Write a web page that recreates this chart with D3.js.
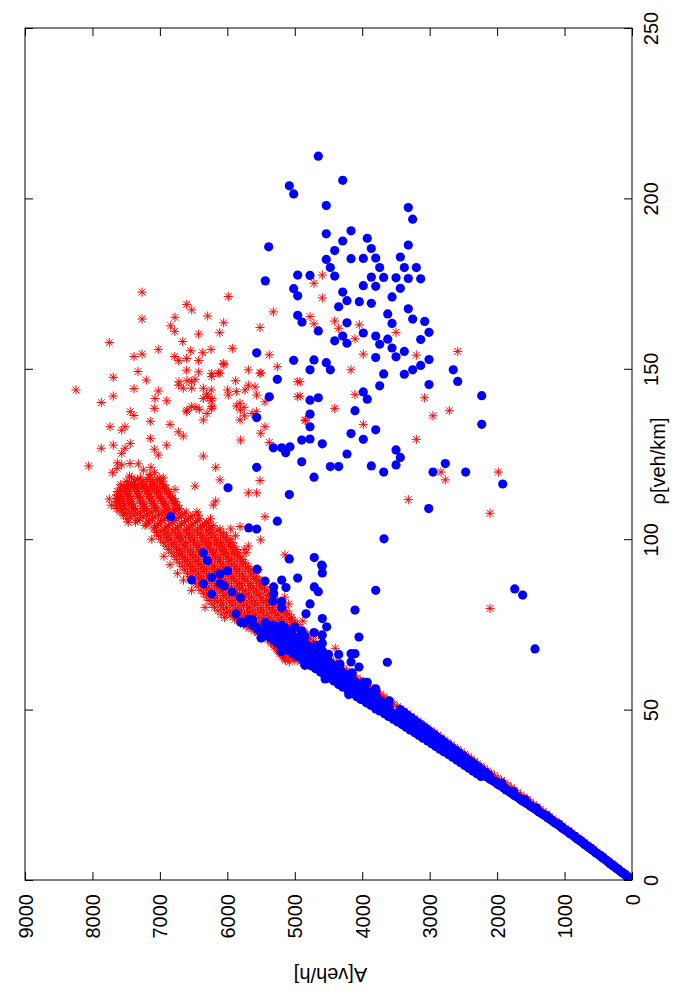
<!DOCTYPE html>
<html><head><meta charset="utf-8">
<script src="https://cdn.jsdelivr.net/npm/d3@7/dist/d3.min.js"></script>
<style>body{margin:0;background:#fff}svg{display:block}</style>
</head><body>
<svg id="chart" width="700" height="1000"></svg>
<script>
// ---------- data (rho [veh/km], A [veh/h]) ----------
const rhoTicks = [0, 50, 100, 150, 200, 250];
const flowTicks = [0, 1000, 2000, 3000, 4000, 5000, 6000, 7000, 8000, 9000];
const rhoLabel = "ρ[veh/km]";
const flowLabel = "A[veh/h]";

// red series: free-flow band
const redBandLow = [[0.5,30],[1.2,75],[1.9,120],[2.6,165],[3.3,210],[4.0,255],[4.7,300],[5.4,345],[6.1,390],[6.8,435],[7.5,480],[8.2,525],[8.9,570],[9.6,615],[10.3,660],[11.0,710],[11.7,755],[12.4,800],[13.1,850],[13.8,895],[14.5,940],[15.2,990],[15.9,1035],[16.6,1080],[17.3,1130],[18.0,1175],[18.7,1225],[19.4,1270],[20.1,1320],[20.8,1365],[21.5,1410],[22.2,1460],[22.9,1505],[23.6,1555],[24.3,1600],[25.0,1650],[25.7,1700],[26.4,1745],[27.1,1790],[27.8,1840],[28.5,1890],[29.2,1935],[29.9,1985],[30.6,2040],[31.3,2090],[32.0,2140],[32.7,2190],[33.4,2240],[34.1,2290],[34.8,2330],[35.5,2380],[36.2,2430],[36.9,2480],[37.6,2530],[38.3,2580],[39.0,2630],[39.7,2680],[40.4,2730],[41.1,2780],[41.8,2830],[42.5,2880],[43.2,2930],[43.9,2980],[44.6,3030],[45.3,3080],[46.0,3130],[46.7,3180],[47.4,3230],[48.1,3280],[48.8,3330],[49.5,3380],[33.0,2350],[38.0,2720],[43.0,3100],[48.0,3450],[50.2,3430],[50.9,3480],[51.6,3530],[52.3,3580],[53.0,3630],[53.7,3680],[54.4,3730],[55.1,3780],[55.8,3830],[56.5,3880],[57.2,3930],[57.9,3980],[58.6,4030],[59.3,4080],[60.0,4130],[60.7,4180],[61.4,4230],[62.1,4280],[62.8,4330],[63.5,4380],[64.2,4430],[52.0,3800],[55.0,4050],[58.0,4300],[61.0,4500],[40.0,2850],[45.0,3200],[36.0,2520]];

// red series: dense congested band, one row of flows per density
const redCoreRho = [64,64.5,65,65.5,66,66.5,67,67.5,68,68.5,69,69.5,70,70.5,71,71.5,72,72.5,73,73.5,74,74.5,75,75.5,76,76.5,77,77.5,78,78.5,79,79.5,80,80.5,81,81.5,82,82.5,83,83.5,84,84.5,85,85.5,86,86.5,87,87.5,88,88.5,89,89.5,90,90.5,91,91.5,92,92.5,93,93.5,94,94.5,95,95.5,96,96.5,97,97.5,98,98.5,99,99.5,100,100.5,101,101.5,102,102.5,103,103.5,104,104.5,105,105.5,106,106.5,107,107.5,108,108.5,109,109.5,110,110.5,111,111.5,112,112.5,113,113.5,114,114.5,115,115.5,116,116.5,117,117.5,118];
const redCoreA = [
[4470,4610,4790,4920,5080],[4540,4700,4860,5010,5140],
[4520,4700,4840,5010,5150],[4610,4770,4930,5090,5180],
[4560,4690,4880,5030,5170],[4650,4810,4970,5130,5220],
[4600,4760,4900,5060,5230],[4690,4850,5010,5170,5260],
[4640,4800,4960,5100,5270],[4730,4890,5050,5210,5300],
[4680,4850,4990,5150,5310],[4770,4930,5090,5250,5350],
[4720,4870,5040,5190,5350],[4800,4970,5130,5300,5400],
[4770,4930,5080,5250,5400],[4850,5010,5180,5340,5480],
[4820,4960,5130,5290,5450,5520],[4900,5060,5220,5390,5550],
[4860,5020,5170,5340,5500,5600],[4950,5110,5270,5430,5600],
[4920,5060,5230,5380,5550,5680],[5000,5160,5320,5480,5650,5720],
[4960,5120,5270,5440,5600,5760],[5040,5200,5370,5530,5700,5800],
[5000,5160,5320,5480,5650,5820],[5080,5250,5410,5580,5750,5890],
[5050,5200,5370,5530,5700,5860,6040],[5130,5290,5460,5620,5790,5960],
[5080,5250,5410,5580,5740,5910,6090],[5170,5340,5500,5670,5830,6010],
[5120,5290,5460,5620,5790,5960,6140],[5210,5380,5550,5710,5880,6060],
[5170,5330,5500,5670,5840,6010,6190],[5250,5420,5590,5760,5930,6100],
[5210,5380,5550,5710,5880,6060,6230],[5300,5470,5640,5800,5970,6150],
[5260,5420,5590,5760,5930,6100,6270],[5340,5510,5680,5850,6020,6190],
[5310,5470,5640,5800,5970,6150,6310],[5390,5560,5730,5890,6060,6230],
[5360,5520,5690,5850,6020,6190,6350],[5440,5610,5770,5940,6110,6270],
[5410,5570,5730,5900,6070,6230,6390],[5490,5650,5820,5980,6150,6310],
[5450,5610,5780,5940,6110,6270,6430],[5530,5690,5860,6020,6190,6350],
[5490,5650,5820,5990,6150,6310,6470],[5570,5740,5900,6070,6230,6390],
[5530,5700,5860,6030,6190,6350,6510],[5610,5780,5940,6110,6270,6430],
[5570,5740,5900,6070,6230,6390,6550],[5650,5820,5980,6150,6310,6470],
[5610,5780,5940,6110,6270,6430,6590],[5690,5860,6020,6190,6350,6510],
[5650,5820,5980,6150,6310,6470,6630],[5730,5900,6060,6230,6390,6550],
[5690,5860,6020,6190,6350,6510,6670],[5770,5940,6100,6270,6430,6590],
[5730,5900,6060,6230,6390,6550,6710],[5810,5980,6140,6310,6470,6630],
[5770,5940,6100,6270,6430,6590,6750],[5850,6020,6180,6350,6510,6670],
[5810,5980,6140,6310,6470,6630,6790],[5890,6060,6220,6390,6550,6710],
[5840,6010,6180,6350,6510,6670,6830],[5920,6090,6260,6430,6590,6750],
[5870,6040,6210,6380,6550,6710,6870],[5950,6120,6290,6460,6630,6790],
[5900,6070,6250,6420,6590,6750,6910],[5980,6160,6330,6500,6670,6830],
[5930,6100,6280,6450,6620,6790,6950],[6020,6190,6370,6540,6710,6880],
[5960,6140,6310,6490,6660,6830,6990],[6060,6230,6400,6570,6740,6910],
[6010,6180,6350,6520,6690,6860,7020],[6100,6270,6440,6600,6770,6940],
[6060,6230,6390,6560,6720,6890,7050],[6150,6310,6480,6640,6810,6980],
[6110,6270,6440,6600,6770,6930,7090],[6240,6400,6570,6740,6910,7080],
[6210,6370,6540,6700,6870,7040,7220],[6340,6510,6680,6850,7030,7200],
[6310,6470,6640,6810,6990,7170,7360],[6440,6620,6790,6970,7150,7330],
[6410,6580,6760,6930,7110,7300,7490],[6540,6720,6890,7070,7250,7430],
[6510,6680,6850,7020,7200,7380,7540],[6640,6810,6980,7160,7330,7500],
[6610,6780,6950,7120,7290,7450,7590],[6730,6900,7060,7230,7400,7560],
[6710,6870,7040,7200,7360,7510,7640],[6760,6930,7090,7250,7420,7580],
[6740,6900,7070,7230,7390,7530,7650],[6800,6960,7120,7280,7440,7590],
[6770,6930,7090,7250,7410,7540,7650],[6830,6990,7150,7300,7460,7600],
[6810,6970,7120,7280,7430,7560,7640],[6860,7020,7170,7330,7480,7600],
[6840,6990,7150,7300,7450,7570,7640],[6900,7050,7200,7350,7500],
[6870,7020,7170,7320,7460,7580,7630],[6930,7080,7230,7380,7520],
[6910,7050,7200,7340,7470,7590],[6960,7110,7260,7400,7530],
[6940,7080,7220,7360,7480,7580],[7000,7140,7280,7420],
[6970,7110,7250,7380,7500],[7040,7190,7330],
[7010,7150,7290,7420]];
// red series: ragged edges of the congested band
const redCoreEdge = [[80.0,6330],[85.0,6530],[90.0,6740],[95.0,6940],[100.0,7120],[105.0,7470],[110.0,7720],[68.0,4400],[72.0,4650],[76.0,4880],[81.0,5090],[86.0,5330],[91.0,5540],[96.0,5720],[101.0,5880],[106.0,6250],[118.5,7450],[119.0,7150],[118.0,6950],[119.5,7700],[92.5,6850],[88.0,6650],[83.0,5150],[97.0,5750],[103.0,5950],[108.0,6450]];
// red series: scattered congested points
const redCloud = [[157.7,7750],[143.8,8244],[147.5,7691],[140.1,7869],[142.0,7691],[153.6,7384],[154.3,7265],[155.7,7024],[161.0,6780],[160.2,6425],[160.6,6113],[158.0,6662],[156.0,5926],[153.6,6780],[152.4,6721],[155.3,6543],[154.7,6365],[155.7,6242],[152.4,6425],[149.2,7325],[146.7,7202],[149.6,6602],[149.1,6425],[151.2,6049],[148.8,6134],[146.2,6717],[146.5,6598],[146.9,6479],[144.3,6356],[141.8,6291],[143.8,6238],[143.8,5995],[146.5,5876],[143.3,5867],[143.8,5738],[149.7,5689],[148.8,5501],[144.7,5590],[154.1,5378],[150.6,5259],[146.2,4957],[141.8,4957],[143.5,7024],[141.3,7072],[140.6,6899],[144.2,7384],[138.4,7083],[137.4,7439],[136.3,7384],[133.0,7740],[132.0,7566],[133.0,7517],[134.6,7142],[133.7,6850],[131.5,6727],[130.3,6653],[137.9,6598],[138.9,6528],[138.1,6416],[136.9,6301],[138.4,6232],[135.0,6356],[140.6,6242],[139.1,5867],[137.9,5808],[136.2,5748],[137.4,5570],[133.0,5441],[131.1,5505],[128.4,5378],[129.1,5802],[135.0,4838],[127.6,7691],[126.7,7869],[128.1,7439],[126.7,7517],[125.2,7566],[129.6,7142],[126.4,7083],[124.7,7024],[127.6,6899],[124.4,6356],[121.5,8056],[122.4,7631],[121.8,7566],[122.2,7443],[122.1,7320],[120.3,7246],[121.1,7132],[119.5,7083],[120.8,7636],[121.1,6172],[117.4,6109],[117.2,5516],[115.6,6479],[114.6,6776],[113.6,5689],[113.6,5565],[111.2,6172],[110.0,6208],[115.9,7468],[115.4,7320],[114.6,7147],[111.8,7750],[112.0,7631],[110.5,7458],[106.6,5441],[99.8,5505],[98.0,5689],[95.4,5145],[111.0,6776],[108.6,6776],[107.1,6430],[104.7,6282],[103.7,5812],[172.5,7265],[164.6,7265],[171.2,5986],[168.9,6602],[167.3,6528],[165.5,6291],[165.1,6776],[162.6,6840],[163.5,6054],[153.0,6602],[166.7,5318],[162.1,5516],[148.6,6232],[177.5,4592],[175.1,4715],[170.8,4592],[165.3,4774],[163.2,4715],[164.0,4408],[161.9,4349],[162.9,4043],[158.8,4107],[160.7,3499],[154.3,3984],[154.0,3198],[155.1,2584],[149.7,4166],[146.2,4923],[142.4,4107],[141.5,3074],[138.4,4408],[142.0,4923],[134.8,4848],[133.7,3984],[136.2,2951],[137.7,2709],[129.3,3198],[119.7,2832],[117.4,2768],[119.7,1982],[111.6,3317],[107.6,2105],[79.7,2105],[54.5,3800],[146.2,6528],[145.2,6721],[144.3,6653],[144.3,6528],[142.6,6306],[141.3,6227],[141.3,6356],[138.9,6227],[137.4,6602],[138.7,6465],[142.3,5986],[145.2,5689],[139.9,5812],[138.7,5753],[135.0,5812],[136.9,5634],[142.3,5565],[140.3,5441],[148.7,5516],[151.6,6060],[148.7,6109],[147.7,6232]];

// blue series: free-flow band
const blueBand = [[0.2,15],[0.6,35],[1.0,70],[1.4,90],[1.8,120],[2.2,150],[2.6,170],[3.0,200],[3.4,230],[3.8,250],[4.2,280],[4.6,310],[5.0,330],[5.4,360],[5.8,385],[6.2,410],[6.6,440],[7.0,465],[7.4,490],[7.8,520],[8.2,545],[8.6,570],[9.0,600],[9.4,625],[9.8,650],[10.2,680],[10.6,705],[11.0,735],[11.4,760],[11.8,790],[12.2,815],[12.6,845],[13.0,870],[13.4,900],[13.8,925],[14.2,955],[14.6,985],[15.0,1010],[15.4,1040],[15.8,1065],[16.2,1100],[16.6,1125],[17.0,1155],[17.4,1185],[17.8,1210],[18.2,1245],[18.6,1270],[19.0,1300],[19.4,1330],[19.8,1360],[20.2,1390],[20.6,1420],[21.0,1450],[21.4,1480],[21.8,1505],[22.2,1540],[22.6,1570],[23.0,1600],[23.4,1630],[23.8,1660],[24.2,1690],[24.6,1720],[25.0,1750],[25.4,1780],[25.8,1810],[26.2,1840],[26.6,1870],[27.0,1900],[27.4,1930],[27.8,1960],[28.2,1990],[28.6,2020],[29.0,2050],[29.4,2080],[29.8,2110],
[0.8,60],[1.6,100],[2.4,165],[3.2,205],[4.0,270],[4.8,325],[5.6,365],[6.4,430],[7.2,470],[8.0,540],[8.8,585],[9.6,645],[10.4,700],[11.2,740],[12.0,810],[12.8,850],[13.6,920],[14.4,960],[15.2,1030],[16.0,1070],[16.8,1145],[17.6,1190],[18.4,1250],[19.2,1305],[20.0,1385],[20.8,1425],[21.6,1500],[22.4,1545],[23.2,1625],[24.0,1665],[24.8,1745],[25.6,1785],[26.4,1865],[27.2,1905],[28.0,1985],[28.8,2025],[29.6,2105],
[2.0,125],[4.4,285],[6.8,440],[9.2,600],[11.6,765],[14.0,925],[16.4,1090],[18.8,1255],[21.2,1420],[23.6,1585],[26.0,1760],[28.4,1930],
[30.2,2150],[30.6,2180],[31.0,2210],[31.4,2240],[31.8,2265],[32.2,2300],[32.6,2330],[33.0,2355],[33.4,2385],[33.8,2415],[34.2,2445],[34.6,2475],[35.0,2500],[35.4,2530],[35.8,2560],[36.2,2590],[36.6,2620],[37.0,2650],[37.4,2680],[37.8,2710],[38.2,2740],[38.6,2770],[39.0,2800],[39.4,2830],[39.8,2860],[40.2,2890],[40.6,2920],[41.0,2950],[41.4,2985],[41.8,3010],[42.2,3045],[42.6,3075],[43.0,3105],[43.4,3135],[43.8,3165],[44.2,3195],[44.6,3225],[45.0,3255],[45.4,3290],[45.8,3315],[46.2,3350],[46.6,3380],[47.0,3410],[47.4,3440],[47.8,3470],[48.2,3500],[48.6,3530],[49.0,3560],[49.4,3590],[49.8,3620],
[30.4,2240],[31.2,2300],[32.0,2360],[32.8,2420],[33.6,2480],[34.4,2540],[35.2,2600],[36.0,2660],[36.8,2720],[37.6,2790],[38.4,2850],[39.2,2910],[40.0,2970],[40.8,3030],[41.6,3100],[42.4,3160],[43.2,3220],[44.0,3290],[44.8,3350],[45.6,3410],[46.4,3480],[47.2,3540],[48.0,3610],[48.8,3670],[49.6,3740],
[30.8,2120],[31.6,2170],[32.4,2230],[33.2,2280],[34.0,2340],[34.8,2390],[35.6,2450],[36.4,2500],[37.2,2560],[38.0,2610],[38.8,2670],[39.6,2720],[40.4,2780],[41.2,2830],[42.0,2890],[42.8,2940],[43.6,3000],[44.4,3050],[45.2,3110],[46.0,3160],[46.8,3220],[47.6,3270],[48.4,3330],[49.2,3380],[50.0,3440],
[50.4,3690],[51.0,3730],[51.6,3775],[52.2,3820],[52.8,3865],[53.4,3910],[54.0,3955],[54.6,4000],[55.2,4045],[55.8,4090],[56.4,4130],[57.0,4175],[57.6,4220],[58.2,4265],[58.8,4305],[59.4,4350],[60.0,4395],[60.6,4440],[61.2,4480],[61.8,4525],[62.4,4565],[63.0,4610],[63.6,4650],[64.2,4695],[64.8,4735],[65.4,4780],[66.0,4820],[66.6,4860],[67.2,4905],[67.8,4945],[68.4,4985],[69.0,5025],[69.6,5065],[70.2,5105],[70.8,5145],[71.4,5185],[72.0,5220],[72.6,5260],[73.2,5295],[73.8,5335],[74.4,5370],[75.0,5410],
[50.2,3800],[51.2,3870],[52.0,3940],[53.0,4020],[53.8,4080],[54.8,4150],[55.6,4210],[56.6,4290],[57.4,4350],[58.4,4420],[59.2,4480],[60.2,4560],[61.0,4620],[62.0,4690],[62.8,4750],[63.8,4830],[64.6,4890],[65.6,4960],[66.4,5020],[67.4,5100],[68.2,5160],[69.2,5230],[70.0,5290],[71.0,5360],[71.8,5420],[72.8,5490],[73.6,5550],[74.6,5620],
[50.6,3600],[51.4,3650],[52.4,3720],[53.2,3770],[54.2,3840],[55.0,3890],[56.0,3960],[56.8,4010],[57.8,4080],[58.6,4130],[59.6,4200],[60.4,4250],[61.4,4320],[62.2,4370],[63.2,4440],[64.0,4490],[65.0,4560],[65.8,4610],[66.8,4680],[67.6,4730],[68.6,4800],[69.4,4850],[70.4,4920],[71.2,4970],[72.2,5040],[73.0,5090],[74.0,5150],[74.8,5200],
[52.6,3600],[55.4,3800],[58.0,3980],[60.8,4150],[63.4,4330],[66.2,4500],[68.8,4680],[71.6,4850],[74.2,5000],[54.4,4200],[59.0,4550],[63.0,4850],[67.0,5200],[71.0,5500],[75.6,5800]];
// blue series: scattered congested points
const blueCloud = [[212.4,4651],[205.3,4289],[203.7,5081],[201.3,5016],[197.9,4533],[197.3,3317],[193.9,3252],[189.6,4533],[190.5,4166],[187.5,4289],[188.3,3925],[186.3,3317],[185.8,5387],[184.7,4408],[185.3,3865],[182.1,4533],[182.3,4166],[182.4,3984],[182.5,3800],[182.8,3435],[179.7,4473],[179.7,3741],[179.7,3376],[179.7,3198],[177.5,4957],[177.4,4774],[177.2,4408],[176.9,3865],[176.8,3682],[176.7,3499],[176.5,3317],[176.4,3133],[175.8,5437],[174.4,3984],[174.2,3800],[173.6,3435],[173.5,5016],[172.5,4289],[171.4,4957],[171.1,3558],[170.0,4226],[169.7,4043],[169.2,3865],[168.2,4349],[167.6,3317],[166.1,3622],[165.7,4957],[163.7,4893],[163.5,4226],[163.3,3558],[164.6,3252],[163.9,3074],[161.1,4651],[160.5,3984],[159.6,4289],[159.6,3800],[160.7,3010],[158.2,4408],[157.5,4226],[157.2,3741],[158.7,3622],[158.6,3133],[156.1,3558],[155.1,3376],[153.3,3800],[153.5,3499],[152.6,4715],[151.8,4533],[152.7,3010],[154.7,5565],[152.5,5016],[149.7,4774],[149.7,4473],[151.0,3133],[149.7,3252],[149.7,2650],[148.5,3682],[148.4,3376],[146.3,2584],[145.0,3741],[145.4,3010],[146.9,5259],[142.1,2228],[140.8,4774],[141.5,4651],[143.2,3984],[141.1,3925],[137.7,4107],[136.7,4774],[133.7,2228],[133.0,4774],[131.0,4166],[132.1,3800],[129.1,4897],[129.4,4774],[129.3,3984],[128.0,4592],[126.2,3499],[124.0,3435],[125.0,4226],[122.7,4897],[121.3,4473],[121.3,4349],[121.5,3865],[121.8,3499],[122.2,2768],[119.7,3682],[119.7,2951],[119.7,2466],[118.2,4715],[116.2,1917],[109.0,3014],[100.1,3677],[85.4,1739],[83.6,1621],[67.8,1438],[63.9,3628],[106.6,6840],[115.1,5990],[121.1,5565],[113.1,5081],[105.3,5259],[103.3,5683],[103.0,5565],[94.2,5081],[94.6,4711],[92.1,4592],[90.1,4592],[88.6,4957],[85.0,3800],[91.2,5560],[87.7,5441],[88.0,5194],[85.8,5130],[86.0,5313],[84.1,5313],[81.7,5194],[79.9,5194],[86.0,4711],[84.6,4651],[81.0,4774],[79.2,4107],[78.1,4834],[76.7,4592],[74.3,4527],[73.1,4897],[72.6,4715],[71.9,4592],[71.3,4048],[74.8,5323],[69.5,4592],[67.3,4592],[66.2,4349],[66.4,4166],[66.4,4107],[64.0,4166],[62.5,4048],[58.0,3925],[56.1,3800],[47.6,3376],[96.0,6356],[93.7,6297],[88.0,6528],[86.9,6356],[88.8,6232],[89.8,6109],[90.7,5995],[87.0,6109],[86.3,6049],[83.9,6232],[84.5,5931],[82.8,5808],[78.1,5871],[75.5,5753],[76.5,5683],[74.1,5565],[73.4,5437],[81.9,5327],[141.8,5378],[126.8,5194],[126.8,5318],[127.1,5071],[125.4,5135],[135.7,5565],[92.4,4601],[76.3,5624],[75.5,5441]];

// ---------- chart ----------
const svg = d3.select("#chart");
const L = 25, R = 632, T = 28, B = 880;
const x = d3.scaleLinear().domain([0, 9000]).range([R, L]);   // A runs leftwards
const y = d3.scaleLinear().domain([0, 250]).range([B, T]);    // rho runs upwards
const font = "'Liberation Sans', Arial, Helvetica, sans-serif";
const fs = 20;

svg.append("clipPath").attr("id", "clipArea").append("rect")
  .attr("x", L).attr("y", T).attr("width", R - L).attr("height", B - T);
const plot = svg.append("g").attr("clip-path", "url(#clipArea)");

// red asterisks (drawn first)
const s = 4.6, k = 3.4;
const star = `M${-s},0L${s},0M0,${-s}L0,${s}M${-k},${-k}L${k},${k}M${-k},${k}L${k},${-k}`;
const redCore = [];
redCoreRho.forEach((r, i) => redCoreA[i].forEach(a => redCore.push([r, a])));
const redAll = redBandLow.concat(redCore, redCoreEdge, redCloud);
plot.append("g").selectAll("path").data(redAll).join("path")
  .attr("d", star)
  .attr("transform", d => `translate(${x(d[1])},${y(d[0])})`)
  .attr("fill", "none").attr("stroke", "#ff0000").attr("stroke-width", 1);

// blue filled circles
const blueAll = blueBand.concat(blueCloud);
plot.append("g").selectAll("circle").data(blueAll).join("circle")
  .attr("cx", d => x(d[1])).attr("cy", d => y(d[0])).attr("r", 4.6)
  .attr("fill", "#0000ff");

// frame
svg.append("rect").attr("x", L).attr("y", T).attr("width", R - L).attr("height", B - T)
  .attr("fill", "none").attr("stroke", "#000").attr("stroke-width", 1);

const tick = 8;
const gB = svg.append("g").attr("transform", `translate(0,${B})`)
  .call(d3.axisBottom(x).tickValues(flowTicks).tickSizeInner(-tick).tickSizeOuter(0).tickFormat(d3.format("d")));
gB.select(".domain").remove();
gB.selectAll("text").attr("x", 0).attr("y", 0).attr("dy", "0.35em")
  .attr("transform", "translate(0,14) rotate(-90)").attr("text-anchor", "end");
const gT = svg.append("g").attr("transform", `translate(0,${T})`)
  .call(d3.axisTop(x).tickValues(flowTicks).tickSizeInner(-tick).tickSizeOuter(0).tickFormat(""));
gT.select(".domain").remove();
const gR = svg.append("g").attr("transform", `translate(${R},0)`)
  .call(d3.axisRight(y).tickValues(rhoTicks).tickSizeInner(-tick).tickSizeOuter(0));
gR.select(".domain").remove();
gR.selectAll("text").attr("x", 0).attr("y", 0).attr("dy", "0.35em")
  .attr("transform", "translate(19,0) rotate(-90)").attr("text-anchor", "middle");
const gL = svg.append("g").attr("transform", `translate(${L},0)`)
  .call(d3.axisLeft(y).tickValues(rhoTicks).tickSizeInner(-tick).tickSizeOuter(0).tickFormat(""));
gL.select(".domain").remove();

svg.selectAll(".tick line").attr("stroke", "#000");
svg.selectAll(".tick text").attr("font-family", font).attr("font-size", fs).attr("fill", "#000");

svg.append("text").attr("transform", `translate(${(L + R) / 2 + 2},975) rotate(180)`)
  .attr("text-anchor", "middle").attr("dy", "0.35em")
  .attr("font-family", font).attr("font-size", fs).text(flowLabel);
svg.append("text").attr("transform", `translate(658,461) rotate(-90)`)
  .attr("text-anchor", "middle").attr("dy", "0.35em")
  .attr("font-family", font).attr("font-size", fs).text(rhoLabel);
</script>
</body></html>
